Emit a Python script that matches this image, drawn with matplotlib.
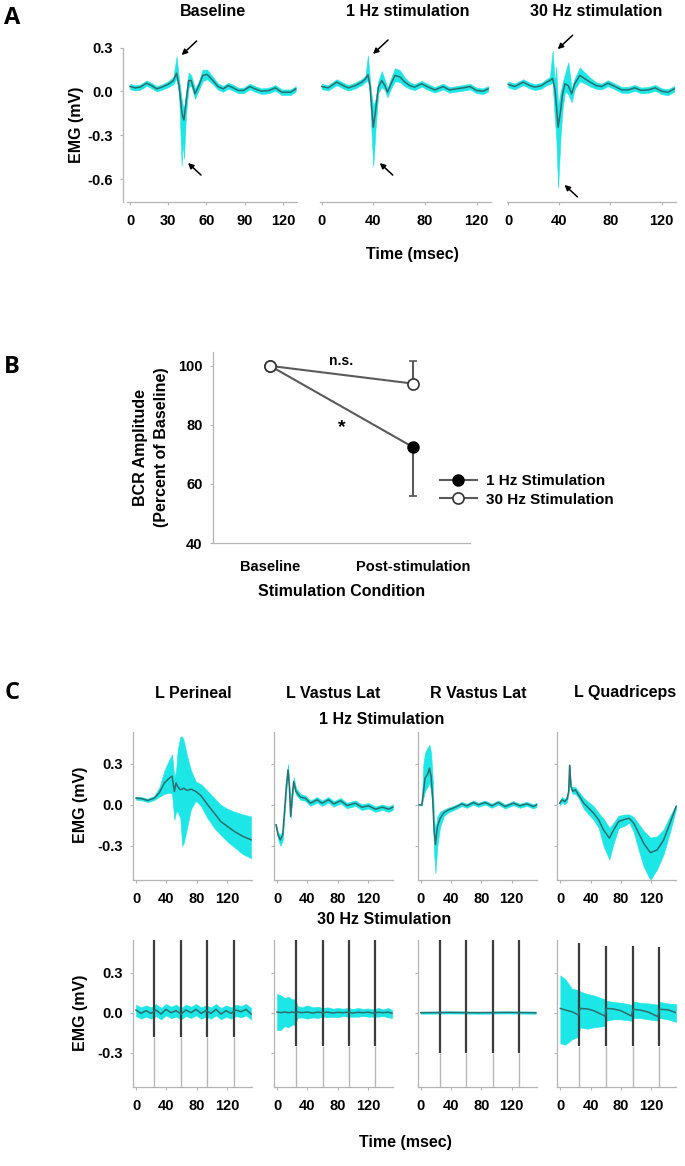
import numpy as np
import matplotlib
matplotlib.use('Agg')
import matplotlib.pyplot as plt
from matplotlib.lines import Line2D

plt.rcParams['font.family'] = ['Liberation Sans', 'DejaVu Sans']
plt.rcParams['font.weight'] = 'bold'
plt.rcParams['axes.unicode_minus'] = False

# ---------------- Panel A data (time in ms, EMG in mV) ----------------
a_base_t = [0, 4, 8, 13, 17, 21, 25, 30, 34, 36.5, 38.5, 40.5, 41.3, 42.3, 44, 46, 48, 51, 54, 57,
            60.5, 65, 69, 73, 77, 81, 85, 89, 94, 98, 103, 109, 114, 119, 126, 130]
a_base_mean = [0.034, 0.025, 0.03, 0.057, 0.04, 0.018, 0.03, 0.05, 0.075, 0.125, 0.04, -0.13, -0.17, -0.195,
               -0.07, 0.075, 0.075, -0.016, 0.04, 0.11, 0.117, 0.075, 0.034, 0.018, 0.04, 0.025, 0.007,
               0.007, 0.034, 0.018, 0.002, 0.007, 0.025, -0.005, -0.005, 0.018]
a_base_hi = [0.052, 0.043, 0.048, 0.075, 0.058, 0.036, 0.048, 0.07, 0.1, 0.24, 0.08, -0.05, -0.09, -0.12,
             0.0, 0.13, 0.11, 0.02, 0.07, 0.15, 0.15, 0.1, 0.055, 0.038, 0.06, 0.045, 0.026, 0.026, 0.053,
             0.037, 0.021, 0.026, 0.044, 0.014, 0.014, 0.036]
a_base_lo = [0.016, 0.007, 0.012, 0.039, 0.022, 0.0, 0.012, 0.03, 0.05, 0.09, -0.02, -0.51, -0.35, -0.46,
             -0.15, 0.03, 0.04, -0.05, 0.01, 0.07, 0.085, 0.05, 0.013, -0.002, 0.02, 0.005, -0.012,
             -0.012, 0.015, -0.001, -0.017, -0.012, 0.006, -0.024, -0.024, 0.0]

a_1hz_t = [0, 5, 11.6, 16.8, 20.6, 25.8, 31, 34, 35.8, 37.4, 38.7, 40, 41.8, 43.9, 46.5, 49, 51, 53.7,
           56.8, 60.6, 64.5, 68.4, 72, 77.4, 82.6, 87.7, 94, 99, 104.5, 109.7, 115, 120, 125, 129]
a_1hz_mean = [0.034, 0.025, 0.064, 0.04, 0.025, 0.04, 0.064, 0.087, 0.115, 0.04, -0.11, -0.245, -0.13,
              0.03, 0.075, 0.04, -0.005, 0.053, 0.11, 0.1, 0.064, 0.04, 0.03, 0.053, 0.03, 0.011, 0.034,
              0.011, 0.018, 0.025, 0.034, 0.007, 0.002, 0.018]
a_1hz_hi = [0.052, 0.043, 0.084, 0.06, 0.044, 0.06, 0.085, 0.11, 0.247, 0.08, -0.03, -0.1, -0.05, 0.07,
            0.14, 0.08, 0.025, 0.09, 0.16, 0.145, 0.095, 0.062, 0.05, 0.073, 0.05, 0.03, 0.054, 0.03,
            0.037, 0.044, 0.053, 0.026, 0.021, 0.037]
a_1hz_lo = [0.016, 0.007, 0.044, 0.02, 0.006, 0.02, 0.044, 0.065, 0.08, 0.0, -0.3, -0.51, -0.25, -0.01,
            0.03, 0.01, -0.04, 0.02, 0.07, 0.065, 0.035, 0.018, 0.01, 0.033, 0.01, -0.008, 0.014, -0.008,
            -0.001, 0.006, 0.015, -0.012, -0.017, -0.001]

a_30hz_t = [0, 5, 11.7, 17, 21, 26, 30, 32.6, 34.7, 36.5, 37.5, 39, 41, 42.5, 44.4, 47, 49.6, 52, 56, 60,
            64, 69, 73, 78, 83.5, 88.8, 94, 99, 104, 109.7, 115, 120, 125, 130]
a_30hz_mean = [0.048, 0.034, 0.064, 0.04, 0.03, 0.04, 0.064, 0.075, 0.09, 0.018, -0.08, -0.245, -0.13,
               -0.016, 0.053, 0.04, -0.016, 0.053, 0.11, 0.087, 0.064, 0.04, 0.034, 0.057, 0.034, 0.011,
               0.011, 0.025, 0.007, 0.011, 0.025, 0.002, -0.005, 0.018]
a_30hz_hi = [0.068, 0.054, 0.084, 0.06, 0.05, 0.06, 0.085, 0.1, 0.28, 0.06, 0.17, -0.1, 0.0, 0.06, 0.12,
             0.2, 0.02, 0.09, 0.165, 0.13, 0.095, 0.062, 0.054, 0.077, 0.054, 0.031, 0.031, 0.045, 0.027,
             0.031, 0.045, 0.022, 0.015, 0.038]
a_30hz_lo = [0.028, 0.014, 0.044, 0.02, 0.01, 0.02, 0.044, 0.05, 0.06, -0.2, -0.3, -0.66, -0.3, -0.12, 0.0,
             -0.02, -0.073, 0.015, 0.07, 0.055, 0.035, 0.018, 0.014, 0.037, 0.014, -0.009, -0.009, 0.005,
             -0.013, -0.009, 0.005, -0.018, -0.025, -0.002]

a_titles = ['Baseline', '1 Hz stimulation', '30 Hz stimulation']
a_xticks = [[0, 30, 60, 90, 120], [0, 40, 80, 120], [0, 40, 80, 120]]
a_yticks = [-0.6, -0.3, 0.0, 0.3]

# ---------------- Panel B data ----------------
b_conditions = ['Baseline', 'Post-stimulation']
b_1hz = [100, 72.5]
b_1hz_err_lo = [0, 16.5]
b_1hz_err_hi = [0, 0]
b_30hz = [100, 94]
b_30hz_err_lo = [0, 0]
b_30hz_err_hi = [0, 7.5]
b_yticks = [40, 60, 80, 100]

# ---------------- Panel C data: 1 Hz stimulation ----------------
c_muscles = ['L Perineal', 'L Vastus Lat', 'R Vastus Lat', 'L Quadriceps']

c1_per_t = [0, 6.6, 15.4, 24, 31, 37.4, 44, 47.6, 50.7, 52.9, 55, 58.6, 61, 63, 67.4, 72.7, 79, 86, 94.7,
            103.5, 112, 121, 130, 141, 152]
c1_per_mean = [0.049, 0.046, 0.032, 0.049, 0.09, 0.16, 0.195, 0.21, 0.098, 0.16, 0.134, 0.11, 0.115,
               0.122, 0.105, 0.115, 0.098, 0.066, 0.0, -0.061, -0.122, -0.159, -0.195, -0.23, -0.256]
c1_per_hi = [0.06, 0.058, 0.045, 0.065, 0.13, 0.25, 0.33, 0.37, 0.2, 0.25, 0.4, 0.5, 0.5, 0.47, 0.36,
             0.25, 0.17, 0.15, 0.1, 0.05, 0.0, -0.03, -0.05, -0.07, -0.085]
c1_per_lo = [0.037, 0.034, 0.02, 0.035, 0.06, 0.08, 0.09, 0.08, -0.11, -0.05, -0.05, -0.1, -0.3, -0.28,
             -0.17, -0.03, 0.03, -0.01, -0.1, -0.17, -0.22, -0.27, -0.31, -0.36, -0.39]

c1_lvl_t = [-1.3, 1.3, 4.4, 7.5, 10, 12.3, 14.5, 16.3, 18, 20, 22, 25, 31, 37.4, 44, 53, 59.5, 68, 75, 84,
            92.5, 103.5, 112, 121, 130, 139, 147.6, 153]
c1_lvl_mean = [-0.146, -0.22, -0.256, -0.22, -0.037, 0.134, 0.256, 0.134, -0.085, 0.06, 0.17, 0.098,
               0.056, 0.049, 0.012, 0.037, 0.012, 0.037, 0.007, 0.03, -0.005, 0.012, -0.017, -0.007,
               -0.032, -0.017, -0.032, -0.017]
c1_lvl_hi = [-0.14, -0.2, -0.22, -0.19, 0.0, 0.18, 0.3, 0.16, -0.06, 0.1, 0.2, 0.125, 0.078, 0.069, 0.032,
             0.057, 0.032, 0.057, 0.027, 0.05, 0.015, 0.032, 0.003, 0.013, -0.012, 0.003, -0.012, 0.003]
c1_lvl_lo = [-0.15, -0.25, -0.3, -0.26, -0.07, 0.1, 0.22, 0.11, -0.1, 0.03, 0.14, 0.075, 0.036, 0.029,
             -0.008, 0.017, -0.008, 0.017, -0.013, 0.01, -0.025, -0.008, -0.037, -0.027, -0.052, -0.037,
             -0.052, -0.037]

c1_rvl_t = [-1.8, 1.3, 3.5, 5.7, 8.8, 11.5, 13.7, 15.9, 17.6, 19.4, 22, 25.6, 30.8, 36.6, 43, 49.8, 54, 61,
            69.6, 76, 85, 94, 102.6, 111.5, 122.5, 131, 140, 149, 153]
c1_rvl_mean = [0.0, 0.0, 0.085, 0.195, 0.22, 0.268, 0.207, 0.037, -0.183, -0.29, -0.159, -0.1, -0.056,
               -0.037, -0.024, -0.007, 0.007, -0.007, 0.017, 0.0, 0.017, -0.007, 0.017, -0.012, 0.012,
               -0.007, 0.007, -0.012, 0.0]
c1_rvl_hi = [0.005, 0.005, 0.3, 0.38, 0.415, 0.44, 0.38, 0.18, -0.1, -0.18, -0.085, -0.05, -0.035, -0.02,
             -0.008, 0.008, 0.022, 0.008, 0.032, 0.015, 0.032, 0.008, 0.032, 0.003, 0.027, 0.008, 0.022,
             0.003, 0.015]
c1_rvl_lo = [-0.005, -0.005, 0.05, 0.1, 0.13, 0.16, 0.1, -0.05, -0.35, -0.5, -0.3, -0.16, -0.08, -0.055,
             -0.04, -0.022, -0.008, -0.022, 0.002, -0.015, 0.002, -0.022, 0.002, -0.027, -0.003, -0.022,
             -0.008, -0.027, -0.015]

c1_lq_t = [-0.9, 2.2, 5.7, 8.8, 11, 12.3, 14, 16.3, 19.8, 24, 31, 37.4, 44, 50.7, 57, 64.8, 70.5, 77, 86,
           91, 97, 103.5, 110, 119, 128, 136.6, 145, 153]
c1_lq_mean = [0.012, 0.037, 0.024, 0.041, 0.098, 0.29, 0.134, 0.098, 0.11, 0.073, 0.012, -0.024, -0.061,
              -0.11, -0.183, -0.244, -0.183, -0.122, -0.105, -0.098, -0.134, -0.207, -0.28, -0.35, -0.33,
              -0.256, -0.134, -0.012]
c1_lq_hi = [0.03, 0.057, 0.044, 0.06, 0.11, 0.29, 0.14, 0.13, 0.13, 0.1, 0.05, 0.02, -0.01, -0.06, -0.1,
            -0.17, -0.13, -0.08, -0.07, -0.07, -0.09, -0.14, -0.19, -0.24, -0.23, -0.18, -0.08, 0.0]
c1_lq_lo = [-0.005, 0.017, 0.004, 0.021, 0.085, 0.28, 0.12, 0.08, 0.08, 0.05, -0.03, -0.07, -0.11, -0.17,
            -0.3, -0.4, -0.28, -0.17, -0.15, -0.13, -0.2, -0.33, -0.45, -0.55, -0.47, -0.36, -0.2, -0.03]

# ---------------- Panel C data: 30 Hz stimulation ----------------
c30_per_t = [0, 6.6, 13.2, 19.8, 26.4, 33, 39.6, 46.3, 52.9, 59.5, 66, 72.7, 79.3, 85.9, 92.5, 99, 105.7,
             112.3, 119, 125.5, 132, 138.8, 145.4, 152]
c30_per_mean = [0.02, -0.005, 0.015, -0.005, 0.02, -0.01, 0.025, 0.0, 0.015, -0.01, 0.02, 0.0, 0.025,
                -0.005, 0.015, -0.005, 0.025, -0.01, 0.015, -0.005, 0.02, 0.007, 0.025, -0.01]
c30_per_hi = [0.06, 0.04, 0.055, 0.04, 0.065, 0.035, 0.065, 0.045, 0.06, 0.035, 0.06, 0.045, 0.065, 0.04,
              0.055, 0.04, 0.065, 0.035, 0.055, 0.04, 0.06, 0.05, 0.065, 0.035]
c30_per_lo = [-0.025, -0.045, -0.03, -0.045, -0.025, -0.05, -0.02, -0.04, -0.03, -0.05, -0.025, -0.04,
              -0.02, -0.045, -0.03, -0.045, -0.02, -0.05, -0.03, -0.045, -0.025, -0.035, -0.02, -0.05]

c30_lvl_t = [0, 5, 10, 15, 20, 24, 27, 33, 40, 47, 54, 60, 67, 74, 80, 87, 94, 100, 107, 114, 120, 127,
             134, 140, 147, 152]
c30_lvl_mean = [0.005, 0.0, 0.005, 0.0, 0.005, 0.0, 0.005, 0.0, 0.005, -0.003, 0.004, 0.0, 0.004, -0.003,
                0.003, 0.0, 0.004, -0.003, 0.003, 0.0, 0.004, -0.003, 0.003, 0.0, 0.004, -0.005]
c30_lvl_hi = [0.14, 0.13, 0.11, 0.12, 0.1, 0.1, 0.05, 0.04, 0.055, 0.04, 0.045, 0.035, 0.04, 0.03, 0.035,
              0.03, 0.035, 0.028, 0.035, 0.028, 0.032, 0.025, 0.035, 0.025, 0.035, 0.02]
c30_lvl_lo = [-0.13, -0.13, -0.1, -0.11, -0.09, -0.09, -0.04, -0.035, -0.045, -0.035, -0.04, -0.03, -0.035,
              -0.03, -0.035, -0.025, -0.03, -0.03, -0.03, -0.025, -0.03, -0.03, -0.03, -0.025, -0.035,
              -0.04]

c30_rvl_t = [0, 38, 76, 114, 152]
c30_rvl_mean = [0.0, 0.002, 0.0, 0.002, 0.0]
c30_rvl_hi = [0.008, 0.01, 0.008, 0.01, 0.008]
c30_rvl_lo = [-0.008, -0.006, -0.008, -0.006, -0.008]

c30_lq_t = [0, 6.6, 15.4, 24, 26, 36, 44, 59, 61, 70, 80, 94, 96, 105, 116, 129, 131, 142, 153]
c30_lq_mean = [0.032, 0.02, 0.007, -0.017, 0.032, 0.028, 0.015, -0.025, 0.032, 0.028, 0.015, -0.025,
               0.025, 0.02, 0.005, -0.03, 0.025, 0.022, 0.0]
c30_lq_hi = [0.28, 0.25, 0.18, 0.17, 0.16, 0.14, 0.13, 0.1, 0.09, 0.08, 0.075, 0.06, 0.085, 0.075, 0.07,
             0.06, 0.08, 0.07, 0.065]
c30_lq_lo = [-0.23, -0.24, -0.2, -0.18, -0.11, -0.12, -0.11, -0.1, -0.06, -0.05, -0.05, -0.06, -0.04,
             -0.04, -0.05, -0.06, -0.04, -0.05, -0.07]

# stimulus artefacts (30 Hz): times, top and bottom of the dark trace
c30_pulse_t = [[24, 59.5, 94, 129], [25.5, 61, 95, 130], [25.5, 60, 95, 130], [25, 61, 96, 131]]
c30_pulse_top = [[0.56, 0.56, 0.56, 0.56], [0.56, 0.56, 0.56, 0.56], [0.56, 0.56, 0.56, 0.56],
                 [0.52, 0.5, 0.5, 0.49]]
c30_pulse_bot = [[-0.18, -0.18, -0.18, -0.18], [-0.25, -0.25, -0.25, -0.25], [-0.3, -0.3, -0.3, -0.3],
                 [-0.25, -0.25, -0.25, -0.25]]
c_xticks = [0, 40, 80, 120]
c_yticks = [-0.3, 0.0, 0.3]

# ---------------- styling ----------------
W, H = 685, 1166
CYAN = '#1ce6e6'
DARK = '#2d6e6e'
SPINE = '#b3b3b3'
FS_TICK = 10.5
FS_LAB = 11.5

fig = plt.figure(figsize=(W / 100, H / 100), dpi=100)


def add_ax(l, t, r, b):
    return fig.add_axes([l / W, 1 - b / H, (r - l) / W, (b - t) / H])


def ftext(x, y, s, **kw):
    kw.setdefault('ha', 'center')
    kw.setdefault('va', 'center')
    kw.setdefault('fontweight', 'bold')
    return fig.text(x / W, 1 - y / H, s, **kw)


def style(ax, left=True):
    ax.patch.set_alpha(0)
    for s in ['top', 'right']:
        ax.spines[s].set_visible(False)
    for s in ['left', 'bottom']:
        ax.spines[s].set_color(SPINE)
        ax.spines[s].set_linewidth(0.9)
    ax.tick_params(colors=SPINE, length=2.5, width=0.8, labelcolor='black', labelsize=FS_TICK)
    ax.tick_params(axis='x', pad=6)
    ax.tick_params(axis='y', pad=5)
    if not left:
        ax.spines['left'].set_visible(False)
        ax.tick_params(axis='y', left=False, labelleft=False)
    for lab in ax.get_xticklabels() + ax.get_yticklabels():
        lab.set_fontweight('bold')


def trace(ax, t, m, lo, hi):
    ax.fill_between(t, lo, hi, color=CYAN, lw=0.4, edgecolor=CYAN, clip_on=False, zorder=2)
    ax.plot(t, m, color=DARK, lw=1.1, clip_on=False, zorder=3)


# ---------------- Panel A ----------------
a_data = [(a_base_t, a_base_mean, a_base_lo, a_base_hi),
          (a_1hz_t, a_1hz_mean, a_1hz_lo, a_1hz_hi),
          (a_30hz_t, a_30hz_mean, a_30hz_lo, a_30hz_hi)]
a_boxes = [(123, 47.7, 297, 202), (320.4, 47.7, 490.7, 202), (507, 47.7, 675.6, 202)]
a_xlims = [(-5.5, 131), (-1, 131), (-1, 131)]
a_title_x = [213, 408, 596]
for i, (box, dat) in enumerate(zip(a_boxes, a_data)):
    ax = add_ax(*box)
    t, m, lo, hi = dat
    trace(ax, t, m, lo, hi)
    ax.set_xlim(*a_xlims[i])
    ax.set_ylim(-0.757, 0.3)
    ax.set_xticks(a_xticks[i])
    ax.set_yticks(a_yticks)
    ax.set_yticklabels(['%.1f' % v for v in a_yticks])
    style(ax, left=(i == 0))
    if i == 0:
        ax.spines['bottom'].set_bounds(-2.5, 131)
    # arrows pointing at the positive and negative peaks of the band
    ih = int(np.argmax(hi))
    il = int(np.argmin(lo))
    ax.annotate('', xy=(t[ih] + 4, hi[ih] + 0.01), xytext=(15, 14), textcoords='offset pixels',
                arrowprops=dict(arrowstyle='-|>', color='black', lw=1.1, mutation_scale=8,
                                shrinkA=0, shrinkB=0), annotation_clip=False)
    ax.annotate('', xy=(t[il] + 5, lo[il] + 0.02), xytext=(13, -12), textcoords='offset pixels',
                arrowprops=dict(arrowstyle='-|>', color='black', lw=1.1, mutation_scale=8,
                                shrinkA=0, shrinkB=0), annotation_clip=False)
    ftext(a_title_x[i], 11, a_titles[i], fontsize=FS_LAB)

ftext(77, 125, 'EMG (mV)', rotation=90, fontsize=FS_LAB)
ftext(412, 255, 'Time (msec)', fontsize=FS_LAB)
ftext(12, 18, 'A', fontsize=17, family=['Open Sans', 'DejaVu Sans'], fontweight='bold')

# ---------------- Panel B ----------------
axb = add_ax(213, 352, 470, 543)
xb = np.arange(len(b_conditions))
LINEC = '#5a5a5a'
axb.errorbar(xb, b_1hz, yerr=[b_1hz_err_lo, b_1hz_err_hi], color=LINEC, lw=1.5, capsize=3,
             capthick=1.3, marker='o', ms=8, mfc='black', mec='black', zorder=3)
axb.errorbar(xb, b_30hz, yerr=[b_30hz_err_lo, b_30hz_err_hi], color=LINEC, lw=1.5, capsize=3,
             capthick=1.3, marker='o', ms=8, mfc='white', mec='#333333', mew=1.2, zorder=4)
axb.set_xlim(-0.4, 1.4)
axb.set_ylim(40, 104.7)
axb.set_xticks(xb)
axb.set_xticklabels(b_conditions)
axb.set_yticks(b_yticks)
style(axb)
axb.tick_params(axis='x', length=0, pad=12)
axb.text(0.5, 101.5, 'n.s.', ha='center', va='center', fontsize=10, fontweight='bold')
axb.text(0.5, 79, '*', ha='center', va='center', fontsize=14, fontweight='bold')
handles = [Line2D([], [], color=LINEC, lw=1.5, marker='o', ms=8, mfc='black', mec='black'),
           Line2D([], [], color=LINEC, lw=1.5, marker='o', ms=8, mfc='white', mec='#333333', mew=1.2)]
leg = axb.legend(handles, ['1 Hz Stimulation', '30 Hz Stimulation'], loc='upper left',
                 bbox_to_anchor=(440 / W, 1 - 474 / H), bbox_transform=fig.transFigure,
                 frameon=False, fontsize=11, handlelength=2.4, handletextpad=0.6, labelspacing=0.3,
                 borderaxespad=0, borderpad=0)
for txt in leg.get_texts():
    txt.set_fontweight('bold')
ftext(151, 447, 'BCR Amplitude\n(Percent of Baseline)', rotation=90, fontsize=FS_LAB, linespacing=1.45)
ftext(342, 592, 'Stimulation Condition', fontsize=FS_LAB)
ftext(12, 367, 'B', fontsize=17, family=['Open Sans', 'DejaVu Sans'], fontweight='bold')

# ---------------- Panel C ----------------
c1_data = [(c1_per_t, c1_per_mean, c1_per_lo, c1_per_hi), (c1_lvl_t, c1_lvl_mean, c1_lvl_lo, c1_lvl_hi),
           (c1_rvl_t, c1_rvl_mean, c1_rvl_lo, c1_rvl_hi), (c1_lq_t, c1_lq_mean, c1_lq_lo, c1_lq_hi)]
c30_data = [(c30_per_t, c30_per_mean, c30_per_lo, c30_per_hi),
            (c30_lvl_t, c30_lvl_mean, c30_lvl_lo, c30_lvl_hi),
            (c30_rvl_t, c30_rvl_mean, c30_rvl_lo, c30_rvl_hi),
            (c30_lq_t, c30_lq_mean, c30_lq_lo, c30_lq_hi)]
c_lefts = [133, 274, 417.7, 557.3]
c_w = 118.8
c_title_x = [193, 333, 478, 625]

for j in range(4):
    # 1 Hz row
    ax = add_ax(c_lefts[j], 731.7, c_lefts[j] + c_w, 880)
    t, m, lo, hi = c1_data[j]
    trace(ax, t, m, lo, hi)
    ax.set_xlim(-4, 153)
    ax.set_ylim(-0.55, 0.535)
    ax.set_xticks(c_xticks)
    ax.set_yticks(c_yticks)
    ax.set_yticklabels(['%.1f' % v for v in c_yticks])
    style(ax)
    if j > 0:
        ax.tick_params(axis='y', labelleft=False)
    ftext(c_title_x[j], 693, c_muscles[j], fontsize=FS_LAB)

    # 30 Hz row
    ax = add_ax(c_lefts[j], 940, c_lefts[j] + c_w, 1086.7)
    t, m, lo, hi = c30_data[j]
    ax.set_xlim(-4, 153)
    ax.set_ylim(-0.555, 0.545)
    ybot = ax.get_ylim()[0]
    ax.fill_between(t, lo, hi, color=CYAN, lw=0.4, edgecolor=CYAN, zorder=2)
    ax.vlines(c30_pulse_t[j], ybot, c30_pulse_bot[j], color='#b8b8b8', lw=1.0, zorder=3)
    ax.vlines(c30_pulse_t[j], c30_pulse_bot[j], c30_pulse_top[j], color='#3c3c3c', lw=1.6, zorder=4)
    ax.plot(t, m, color=DARK, lw=1.1, zorder=5)
    ax.set_xticks(c_xticks)
    ax.set_yticks(c_yticks)
    ax.set_yticklabels(['%.1f' % v for v in c_yticks])
    style(ax)
    if j > 0:
        ax.tick_params(axis='y', labelleft=False)

ftext(382, 719, '1 Hz Stimulation', fontsize=FS_LAB)
ftext(384, 920, '30 Hz Stimulation', fontsize=FS_LAB)
ftext(81, 805, 'EMG (mV)', rotation=90, fontsize=FS_LAB)
ftext(81, 1013, 'EMG (mV)', rotation=90, fontsize=FS_LAB)
ftext(405, 1143, 'Time (msec)', fontsize=FS_LAB)
ftext(12, 693, 'C', fontsize=17, family=['Open Sans', 'DejaVu Sans'], fontweight='bold')

fig.savefig('out.png', dpi=100)
